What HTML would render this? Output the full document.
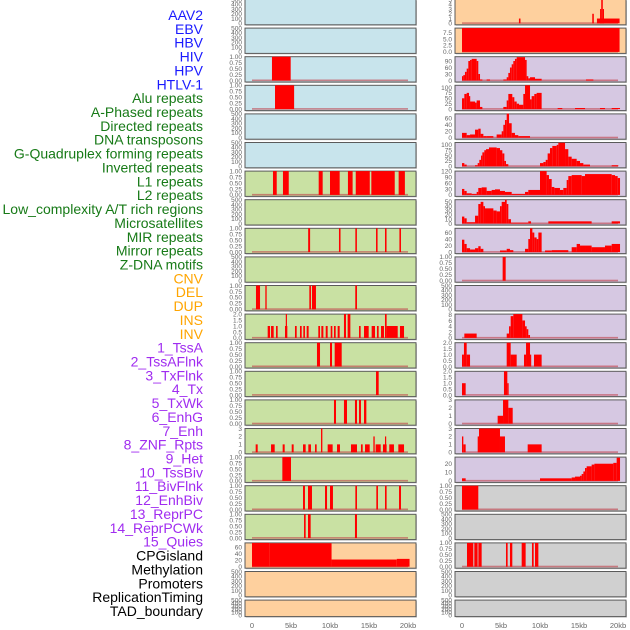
<!DOCTYPE html>
<html><head><meta charset="utf-8"><style>
html,body{margin:0;padding:0;background:#fff;width:630px;height:630px;overflow:hidden}
svg{display:block}
</style></head><body>
<svg id="chart" width="630" height="630" viewBox="0 0 630 630" xmlns="http://www.w3.org/2000/svg" font-family="Liberation Sans, sans-serif"></svg>
<script>
// ---------- labels ----------
const trackLabels = ["AAV2","EBV","HBV","HIV","HPV","HTLV-1","Alu repeats","A-Phased repeats","Directed repeats","DNA transposons","G-Quadruplex forming repeats","Inverted repeats","L1 repeats","L2 repeats","Low_complexity A/T rich regions","Microsatellites","MIR repeats","Mirror repeats","Z-DNA motifs","CNV","DEL","DUP","INS","INV","1_TssA","2_TssAFlnk","3_TxFlnk","4_Tx","5_TxWk","6_EnhG","7_Enh","8_ZNF_Rpts","9_Het","10_TssBiv","11_BivFlnk","12_EnhBiv","13_ReprPC","14_ReprPCWk","15_Quies","CPGisland","Methylation","Promoters","ReplicationTiming","TAD_boundary"];
const labelGroups = ["v","v","v","v","v","v","r","r","r","r","r","r","r","r","r","r","r","r","r","s","s","s","s","s","c","c","c","c","c","c","c","c","c","c","c","c","c","c","c","o","o","o","o","o"];
const xTickValues = [0,5,10,15,20];
const xTickLabels = ["0","5kb","10kb","15kb","20kb"];

// ---------- tick sets ----------
const T500 = ["0","100","200","300","400","500"];
const T1 = ["0.00","0.25","0.50","0.75","1.00"];
const T2 = ["0.0","0.5","1.0","1.5","2.0"];
const T3 = ["0","1","2","3"];

// ---------- left column data [startKb, endKb, value] ----------
const hbv = [[2.56,4.96,1]];
const hiv = [[2.95,5.4,1]];
const alu = [[2.69,3.17,1],[3.97,4.71,1],[8.55,9.06,1],[10.0,11.24,1],[12.3,12.9,1],[13.3,15.1,1],[15.3,18.3,1],[18.8,19.6,1]];
const directed = [[7.2,7.45,1],[11.15,11.35,1],[13.25,13.45,1],[15.9,16.1,1],[17.05,17.25,1],[18.9,19.1,1]];
const gquad = [[0.51,1.03,1],[1.71,1.88,1],[7.35,7.56,1],[7.69,8.2,1],[13.24,13.46,1]];
const inverted = [[2.01,2.31,1],[2.44,2.78,1],[3.08,3.29,1],[4.23,4.53,1],[4.33,4.4,2],[5.51,5.73,1],[6.15,6.37,1],[6.58,6.79,1],[7.01,7.26,1],[8.5,8.72,1],[8.89,9.15,1],[9.45,9.7,1],[10.09,10.3,1],[10.51,10.73,1],[10.98,11.24,1],[11.79,12.05,2],[12.26,12.61,2],[13.72,13.93,1],[14.36,14.96,1],[15.34,15.77,1],[16.02,16.24,1],[16.54,16.92,1],[17.05,17.26,2],[17.26,18.68,1],[18.97,19.49,1]];
const l1 = [[8.33,8.72,1],[10.0,10.26,1],[10.6,11.5,1]];
const l2 = [[15.9,16.24,1]];
const lowcomp = [[10.51,10.77,1],[11.79,12.18,1],[13.2,13.46,1],[13.72,13.97,1],[14.36,14.66,1]];
const microsat = [[0.47,0.73,1],[2.44,2.91,1],[3.93,4.19,1],[5.09,5.34,1],[6.54,6.88,1],[7.22,7.56,1],[8.08,8.29,1],[8.85,9.02,3],[9.7,10.34,1],[10.9,11.28,1],[12.69,13.46,1],[13.97,14.19,1],[14.49,15.09,1],[15.56,15.73,2],[15.85,16.5,1],[16.79,17.26,1],[17.05,17.18,2],[17.6,18.2,1],[18.76,19.49,1]];
const mir = [[3.89,5.0,1]];
const mirror = [[6.54,6.79,1],[7.18,7.69,1],[9.36,9.62,1],[10.0,10.38,1],[13.25,13.46,1],[15.94,16.15,1],[17.05,17.26,1],[18.85,19.1,1]];
const zdna = [[6.67,6.88,1],[7.18,7.52,1],[13.2,13.46,1]];
const cnv = [[0,2.22,73],[2.22,10.2,72],[10.2,18.56,22],[18.56,20.2,24]];

// ---------- right column data ----------
const ins = [[7.3,7.5,1],[16.7,16.9,2],[17.3,20.2,1],[17.7,17.85,3],[17.85,18.05,5],[18.05,18.2,3]];
const inv = [[0,20.2,9.2]];
const tssA = [[0,0.17,20],[0.17,0.38,25],[0.38,0.6,40],[0.6,0.81,55],[0.81,1.03,90],[1.03,1.24,95],[1.24,1.88,100],[1.88,2.09,90],[2.09,2.31,30],[2.31,2.61,5],[3.16,3.59,5],[5.3,5.73,5],[5.73,5.94,15],[5.94,6.15,35],[6.15,6.37,60],[6.37,6.58,75],[6.58,6.79,90],[6.79,7.01,100],[7.01,8.08,108],[8.08,8.29,95],[8.29,8.5,20],[8.5,8.72,10],[8.72,9.36,15],[9.36,10.21,8],[15.9,16.84,5]];
const tssAFlnk = [[0,0.3,50],[0.3,0.6,70],[0.6,0.9,75],[0.9,1.03,60],[1.03,1.67,35],[1.67,1.88,30],[1.88,2.31,40],[2.31,2.61,10],[5.3,5.73,10],[5.73,5.94,40],[5.94,6.45,70],[6.45,6.71,55],[6.71,7.01,35],[7.01,7.31,25],[7.31,7.86,20],[7.86,8.08,70],[8.08,8.72,110],[8.72,8.93,45],[8.93,9.27,60],[9.27,9.57,70],[9.57,10.21,75],[12.26,12.86,5],[14.49,15.77,5],[17.69,18.33,5],[19.19,20.26,5]];
const txFlnk = [[0,0.6,15],[0.6,1.03,8],[1.03,1.67,10],[1.67,2.09,25],[2.09,2.39,28],[2.39,2.74,12],[2.74,3.16,5],[3.16,4.02,5],[4.44,5.09,10],[5.09,5.3,20],[5.3,5.51,40],[5.51,5.73,55],[5.73,6.03,75],[6.03,6.37,45],[6.37,6.79,15],[6.79,7.22,8],[7.22,8.72,5]];
const tx = [[0,0.3,15],[0.3,0.6,8],[1.67,2.01,5],[2.01,2.22,15],[2.22,2.44,30],[2.44,2.61,50],[2.61,2.86,65],[2.86,3.08,75],[3.08,3.46,80],[3.46,4.44,88],[4.44,4.87,85],[4.87,5.17,75],[5.17,5.43,60],[5.43,5.64,25],[5.64,5.94,10],[10.0,10.43,15],[10.43,10.73,20],[10.73,10.98,30],[10.98,11.28,60],[11.28,11.58,85],[11.58,12.14,95],[12.14,12.35,100],[12.35,13.21,110],[13.21,13.63,80],[13.63,14.06,45],[14.06,14.7,35],[14.7,15.13,25],[15.13,15.56,15],[15.56,16.41,8],[19.19,20.04,5]];
const txWk = [[0,0.3,30],[0.3,0.6,20],[0.6,1.24,8],[1.24,1.88,5],[1.88,2.09,15],[2.09,2.52,35],[2.52,3.16,38],[3.16,3.8,20],[3.8,4.23,25],[4.23,4.87,28],[4.87,5.51,20],[5.51,6.37,15],[6.37,8.08,5],[8.08,8.5,15],[8.5,10.0,25],[10.0,10.85,120],[10.85,11.15,100],[11.15,11.5,80],[11.5,11.84,40],[11.84,12.56,35],[12.56,12.99,25],[12.99,13.42,35],[13.42,13.63,75],[13.63,14.06,95],[14.06,15.34,100],[15.34,15.77,95],[15.77,19.19,105],[19.19,19.62,100],[19.62,19.96,95],[19.96,20.26,85]];
const enhG = [[0,0.3,16],[0.3,0.6,12],[0.6,1.67,3],[1.67,2.09,18],[2.09,2.39,45],[2.39,2.74,50],[2.74,2.95,40],[2.95,4.02,35],[4.02,4.44,30],[4.44,4.87,28],[4.87,5.09,40],[5.09,5.51,50],[5.51,5.73,55],[5.73,5.94,45],[5.94,6.28,10],[6.28,8.5,2],[8.5,8.85,5],[11.07,16.62,5],[19.19,20.26,5]];
const enh = [[0,0.3,38],[0.3,0.6,25],[0.6,1.03,12],[1.03,1.67,8],[1.67,2.09,12],[2.09,2.39,18],[2.39,2.74,10],[4.87,5.73,5],[5.73,6.15,10],[6.15,6.58,6],[8.08,8.5,10],[8.5,8.72,40],[8.72,9.02,73],[9.02,9.27,60],[9.27,9.57,45],[9.57,9.79,40],[9.79,10.21,60],[10.64,11.5,5],[11.5,13.63,6],[14.06,14.7,15],[14.7,15.13,25],[15.13,15.77,20],[15.77,16.62,20],[16.62,18.33,15],[18.33,19.19,20],[19.19,20.26,25]];
const znf = [[5.21,5.6,1]];
const tssBiv = [[0.3,1.88,1.5],[5.73,6.03,1.5],[6.03,6.24,4],[6.24,6.58,7.5],[6.58,7.74,8.2],[7.74,8.08,6],[8.08,8.29,4],[8.29,8.5,3],[8.5,8.72,1]];
const bivFlnk = [[0,0.25,1],[0.25,0.6,2],[0.6,1.03,1],[5.73,6.24,2],[6.24,7.01,1],[7.95,8.21,1],[8.21,8.72,2],[8.72,8.85,1],[9.23,10.21,1]];
const enhBiv = [[0,0.47,1],[5.38,5.81,2],[5.81,5.98,1]];
const reprPC = [[4.57,5.26,1],[5.26,5.94,3],[5.94,6.5,2]];
const reprPCWk = [[0,0.17,2],[0.17,0.47,1],[2.01,2.18,2],[2.18,4.87,3],[4.87,5.51,2],[8.42,10.21,1]];
const quies = [[0,0.47,3],[10.0,14.06,3],[14.06,14.49,4],[14.49,15.13,5],[15.13,15.34,6],[15.34,15.56,8],[15.56,15.77,11],[15.77,15.98,15],[15.98,16.62,17],[16.62,16.97,19],[16.97,19.4,20],[19.4,19.83,21],[19.83,20.26,27]];
const cpg = [[0,2.09,1]];
const promoters = [[0.64,1.45,1],[1.58,2.0,1],[2.1,2.52,1],[5.64,5.85,1],[6.15,6.45,1],[7.65,8.16,1],[8.97,9.19,1],[9.36,9.79,1]];

// per-row series for each column
const leftSeries = [null,null,hbv,hiv,null,null,alu,null,directed,null,gquad,inverted,l1,l2,lowcomp,microsat,mir,mirror,zdna,cnv,null,null];
const leftMax = [500,500,1,1,500,500,1,500,1,500,1,2,1,1,1,3,1,1,1,73,500,500];
const leftTicks = [T500,T500,T1,T1,T500,T500,T1,T500,T1,T500,T1,T2,T1,T1,T1,T3,T1,T1,T1,["0","20","40","60"],T500,T500];
const leftTickVals = [null,null,null,null,null,null,null,null,null,null,null,null,null,null,null,null,null,null,null,[0,20,40,60],null,null];
const leftColors = ["#c8e4ec","#c8e4ec","#c8e4ec","#c8e4ec","#c8e4ec","#c8e4ec","#c9e1a3","#c9e1a3","#c9e1a3","#c9e1a3","#c9e1a3","#c9e1a3","#c9e1a3","#c9e1a3","#c9e1a3","#c9e1a3","#c9e1a3","#c9e1a3","#c9e1a3","#fed09e","#fed09e","#fed09e"];

const rightSeries = [ins,inv,tssA,tssAFlnk,txFlnk,tx,txWk,enhG,enh,znf,null,tssBiv,bivFlnk,enhBiv,reprPC,reprPCWk,quies,cpg,null,promoters,null,null];
const rightMax = [5,9.2,110,110,74,111,120,55,73,1,500,8.2,2,2,3,3,27.7,1,500,1,500,500];
const rightTicks = [["0","1","2","3","4","5"],["0.0","2.5","5.0","7.5"],["0","30","60","90"],["0","25","50","75","100"],["0","20","40","60"],["0","25","50","75","100"],["0","30","60","90","120"],["0","10","20","30","40","50"],["0","20","40","60"],T1,T500,["0","2","4","6","8"],T2,T2,T3,T3,["0","10","20"],T1,T500,T1,T500,T500];
const rightColors = ["#fed09e","#fed09e","#d6c8e2","#d6c8e2","#d6c8e2","#d6c8e2","#d6c8e2","#d6c8e2","#d6c8e2","#d6c8e2","#d6c8e2","#d6c8e2","#d6c8e2","#d6c8e2","#d6c8e2","#d6c8e2","#d6c8e2","#d0d0d0","#d0d0d0","#d0d0d0","#d0d0d0","#d0d0d0"];

// ---------- drawing ----------
const NS = "http://www.w3.org/2000/svg";
const svg = document.getElementById("chart");
const groupColor = {v:"#1a1aff", r:"#177a17", s:"#ffa500", c:"#a02cf0", o:"#000000"};
const PITCH = 28.6;
function mk(tag, attrs, parent){
  const e = document.createElementNS(NS, tag);
  for (const k in attrs) e.setAttribute(k, attrs[k]);
  (parent||svg).appendChild(e);
  return e;
}
function rowTop(i){ return -0.5 + i*PITCH; }
function rowH(i){ return i===21 ? 16.5 : 25.3; }
function xScale(col, kb){ return (col===0 ? 252 : 462) + kb*7.8; }
function yScale(i, v, max){ const b = rowTop(i)+rowH(i)-1.5; return b - (v/max)*(rowH(i)-1.5); }

// labels
trackLabels.forEach((t, i) => {
  const el = mk("text", {x:203, y:15 + i*13.86 + 5, "text-anchor":"end", "font-size":14, fill:groupColor[labelGroups[i]]});
  el.textContent = t;
  
  
});

function drawColumn(col, series, maxes, ticks, colors, names){
  const px = col===0 ? 245 : 455;
  const pw = 171;
  for (let i=0;i<22;i++){
    const g = mk("g", {});
    
    
    const top = rowTop(i), h = rowH(i);
    mk("rect", {x:px+1, y:top+1, width:pw, height:h, fill:"#999", opacity:0.5}, g);
    mk("rect", {x:px, y:top, width:pw, height:h, fill:colors[i], stroke:"#5a5a5a", "stroke-width":1}, g);
    // y ticks
    const tk = ticks[i], max = maxes[i];
    tk.forEach(lbl => {
      const v = parseFloat(lbl);
      const t = mk("text", {x:px-3, y:yScale(i, v, max)+2.3, "text-anchor":"end", "font-size":6.5, fill:"#666"}, g);
      t.textContent = lbl;
      
      
    });
    const s = series[i];
    if (s){
      const base = mk("rect", {x:xScale(col,0), y:yScale(i,0,max)-1, width:xScale(col,20)-xScale(col,0), height:1.6, fill:"#c0404a", opacity:0.6}, g);
      
      
      s.forEach(seg => {
        const x0 = xScale(col, seg[0]), x1 = xScale(col, seg[1]);
        const y1 = yScale(i, seg[2], max), y0 = yScale(i, 0, max);
        const r = mk("rect", {x:x0, y:y1, width:Math.max(1.2, x1-x0), height:Math.max(0.5, y0-y1), fill:"#ff0000"}, g);
        
        
      });
    }
  }
  // x ticks
  xTickValues.forEach((v, k) => {
    const t = mk("text", {x:xScale(col, v), y:628, "text-anchor":"middle", "font-size":7.5, fill:"#666"});
    t.textContent = xTickLabels[k];
    
    
  });
}
drawColumn(0, leftSeries, leftMax, leftTicks, leftColors, trackLabels.slice(0,22));
drawColumn(1, rightSeries, rightMax, rightTicks, rightColors, trackLabels.slice(22));
</script>
</body></html>
